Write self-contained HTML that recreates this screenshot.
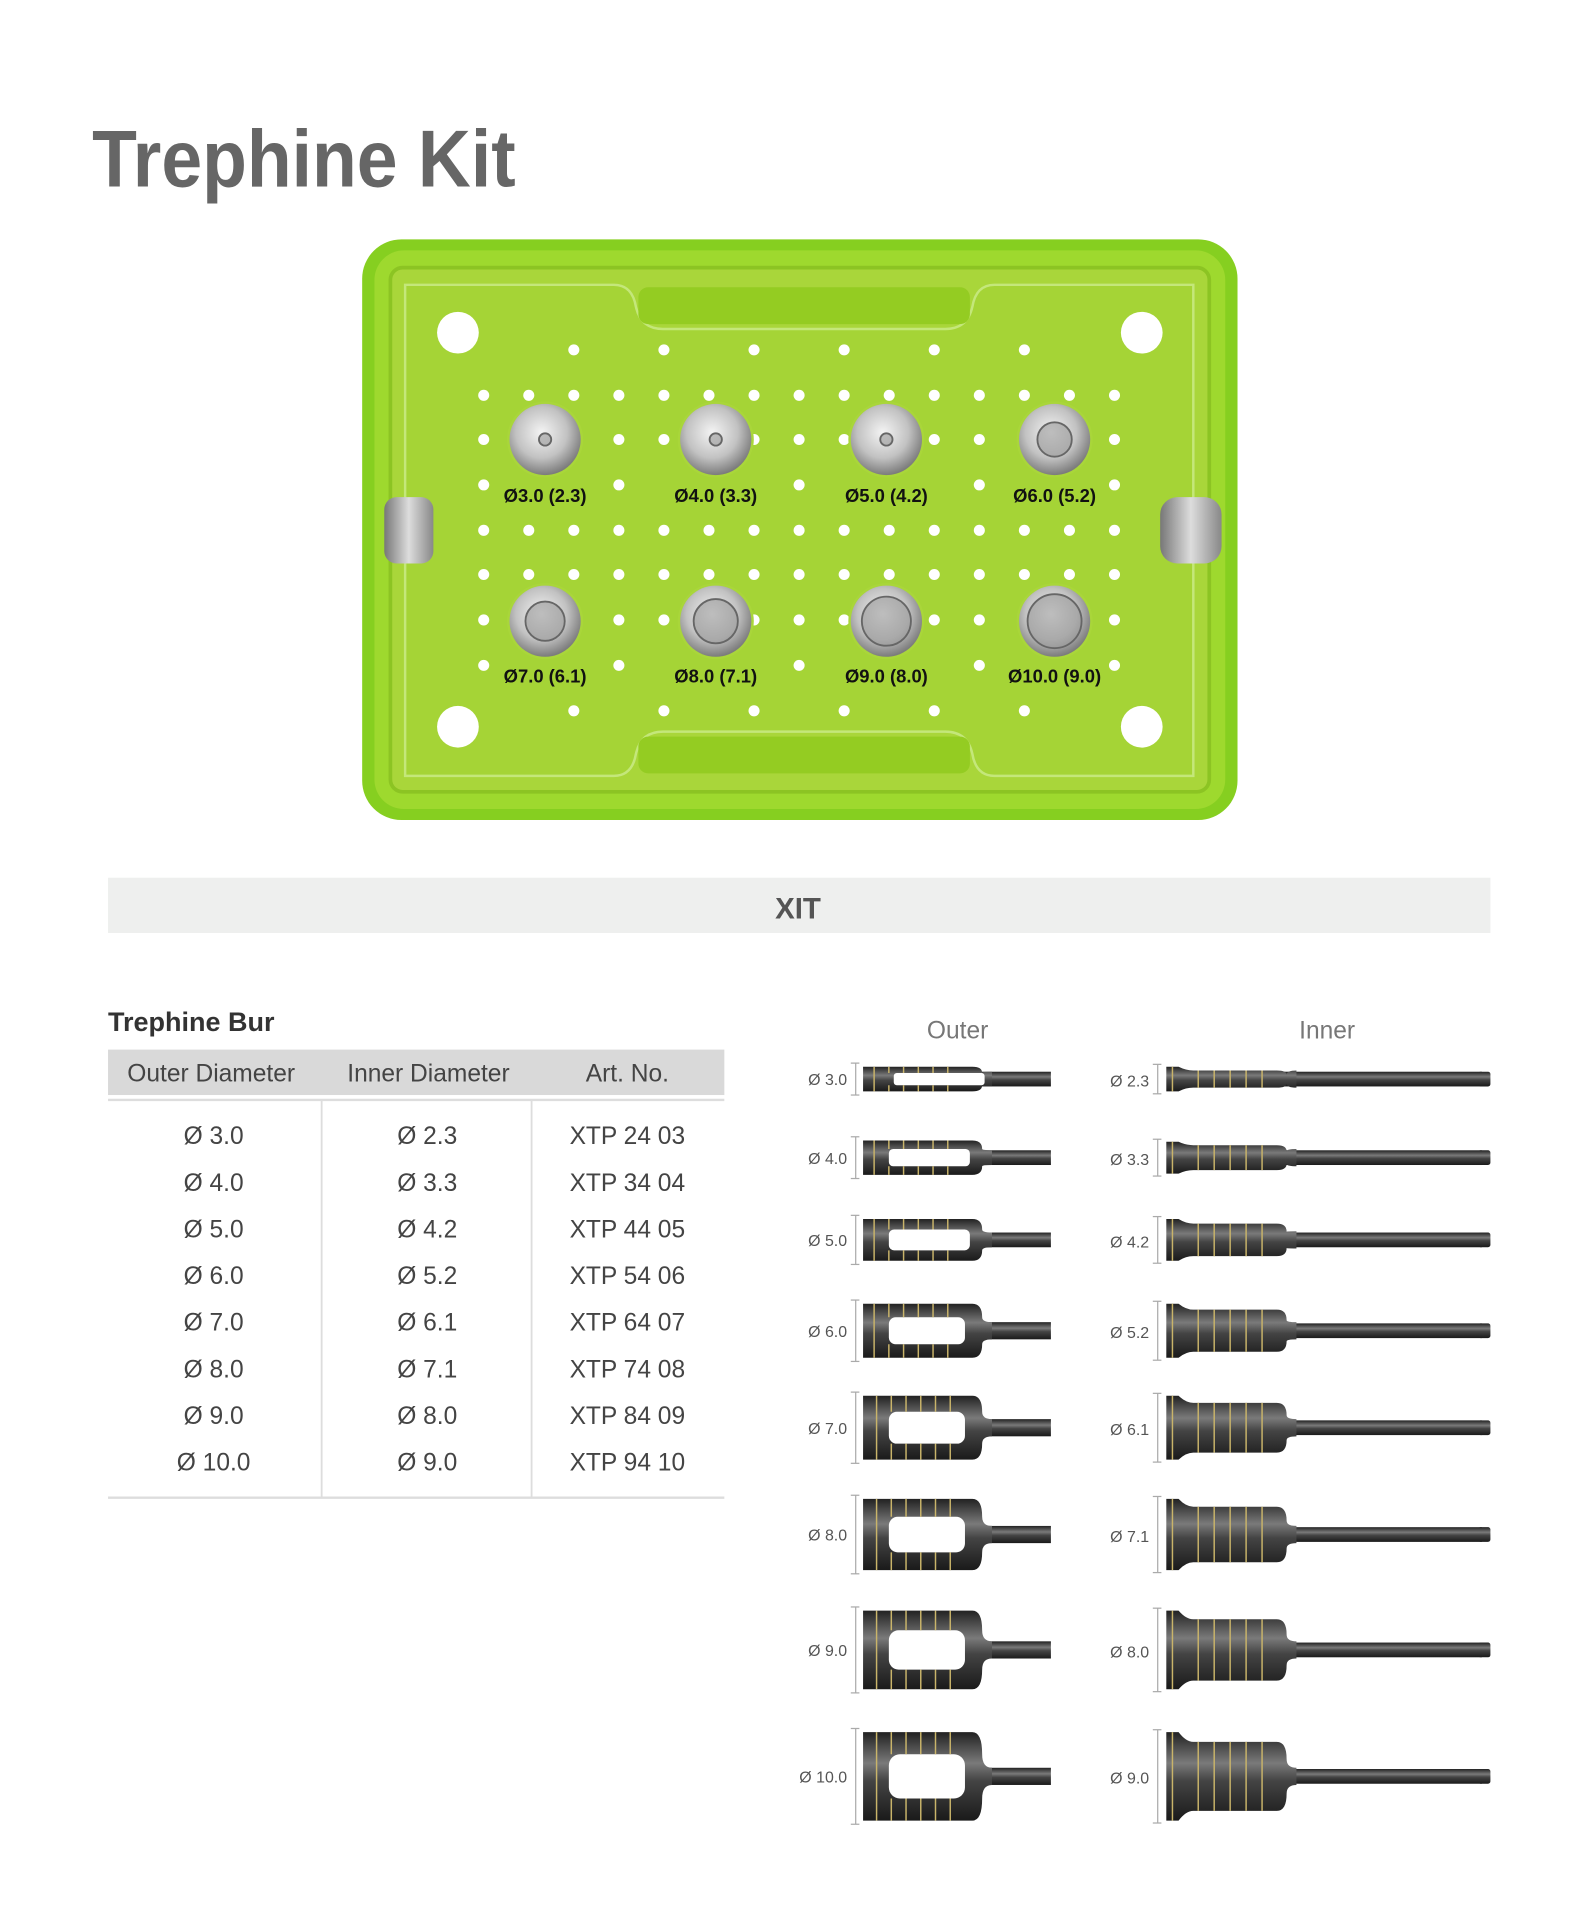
<!DOCTYPE html>
<html><head><meta charset="utf-8"><style>
html,body{margin:0;padding:0;background:#fff;}
svg{display:block;}
.t{font-family:"Liberation Sans Narrow","Liberation Sans",sans-serif;}
</style></head><body>
<svg id="s" width="1596" height="1920" viewBox="0 0 1300 1564" preserveAspectRatio="none" xmlns="http://www.w3.org/2000/svg">
<defs>
<radialGradient id="met" cx="45%" cy="40%" r="60%"><stop offset="0" stop-color="#f4f4f4"/><stop offset="0.6" stop-color="#c2c2c2"/><stop offset="1" stop-color="#7c7c7c"/></radialGradient>
<linearGradient id="dk" x1="0" y1="0" x2="0" y2="1"><stop offset="0" stop-color="#222"/><stop offset="0.35" stop-color="#7a7a7a"/><stop offset="0.55" stop-color="#444"/><stop offset="1" stop-color="#1a1a1a"/></linearGradient>
<linearGradient id="knob" x1="0" y1="0" x2="1" y2="0"><stop offset="0" stop-color="#777"/><stop offset="0.5" stop-color="#ddd"/><stop offset="1" stop-color="#888"/></linearGradient>
</defs>
<text x="75" y="152" textLength="345" lengthAdjust="spacingAndGlyphs" font-size="66" font-weight="bold" fill="#666" font-family="Liberation Sans, sans-serif">Trephine Kit</text>
<!-- tray -->
<rect x="295" y="195" width="713" height="473" rx="32" fill="#86cf20"/>
<rect x="305" y="204" width="693" height="455" rx="24" fill="#9ed92e"/>
<rect x="318" y="218" width="667" height="427" rx="10" fill="#a9d63a" stroke="#8cc423" stroke-width="3"/>
<path d="M330 232 H500 Q515 232 518 250 Q522 268 540 268 H770 Q788 268 792 250 Q795 232 810 232 H972 V632 H810 Q795 632 792 614 Q788 596 770 596 H540 Q522 596 518 614 Q515 632 500 632 H330 Z" fill="#a5d436" stroke="#c4e77a" stroke-width="2"/>
<rect x="520" y="234" width="270" height="30" rx="8" fill="#94cc22"/>
<rect x="520" y="600" width="270" height="30" rx="8" fill="#94cc22"/>
<rect x="313" y="405" width="40" height="54" rx="10" fill="url(#knob)"/>
<rect x="945" y="405" width="50" height="54" rx="14" fill="url(#knob)"/>
<g fill="#fff"><circle cx="373" cy="271" r="17"/><circle cx="930" cy="271" r="17"/><circle cx="373" cy="592" r="17"/><circle cx="930" cy="592" r="17"/></g>
<g id="dots" fill="#fff"></g>
<g id="sock"></g>
<g font-family="Liberation Sans Narrow, Liberation Sans, sans-serif" font-size="15" font-weight="bold" fill="#111" text-anchor="middle">
<text x="444" y="409">Ø3.0 (2.3)</text><text x="583" y="409">Ø4.0 (3.3)</text><text x="722" y="409">Ø5.0 (4.2)</text><text x="859" y="409">Ø6.0 (5.2)</text>
<text x="444" y="556">Ø7.0 (6.1)</text><text x="583" y="556">Ø8.0 (7.1)</text><text x="722" y="556">Ø9.0 (8.0)</text><text x="859" y="556">Ø10.0 (9.0)</text>
</g>
<!-- XIT bar -->
<rect x="88" y="715" width="1126" height="45" fill="#eeefee"/>
<text x="650" y="748" text-anchor="middle" font-family="Liberation Sans Narrow, Liberation Sans, sans-serif" font-size="24" font-weight="bold" fill="#555">XIT</text>
<!-- table -->
<text x="88" y="840" font-family="Liberation Sans, sans-serif" font-size="22" font-weight="bold" fill="#333">Trephine Bur</text>
<rect x="88" y="855" width="502" height="37" fill="#d9d9d9"/>
<line x1="88" y1="896" x2="590" y2="896" stroke="#ddd" stroke-width="2"/>
<line x1="262" y1="896" x2="262" y2="1220" stroke="#ddd" stroke-width="1.5"/>
<line x1="433" y1="896" x2="433" y2="1220" stroke="#ddd" stroke-width="1.5"/>
<line x1="88" y1="1220" x2="590" y2="1220" stroke="#ddd" stroke-width="2"/>
<g font-family="Liberation Sans, sans-serif" font-size="20" fill="#444" text-anchor="middle">
<text x="172" y="881">Outer Diameter</text><text x="349" y="881">Inner Diameter</text><text x="511" y="881">Art. No.</text>
<text x="174" y="932">Ø 3.0</text><text x="348" y="932">Ø 2.3</text><text x="511" y="932">XTP 24 03</text>
<text x="174" y="970">Ø 4.0</text><text x="348" y="970">Ø 3.3</text><text x="511" y="970">XTP 34 04</text>
<text x="174" y="1008">Ø 5.0</text><text x="348" y="1008">Ø 4.2</text><text x="511" y="1008">XTP 44 05</text>
<text x="174" y="1046">Ø 6.0</text><text x="348" y="1046">Ø 5.2</text><text x="511" y="1046">XTP 54 06</text>
<text x="174" y="1084">Ø 7.0</text><text x="348" y="1084">Ø 6.1</text><text x="511" y="1084">XTP 64 07</text>
<text x="174" y="1122">Ø 8.0</text><text x="348" y="1122">Ø 7.1</text><text x="511" y="1122">XTP 74 08</text>
<text x="174" y="1160">Ø 9.0</text><text x="348" y="1160">Ø 8.0</text><text x="511" y="1160">XTP 84 09</text>
<text x="174" y="1198">Ø 10.0</text><text x="348" y="1198">Ø 9.0</text><text x="511" y="1198">XTP 94 10</text>
<text x="780" y="846" fill="#777">Outer</text><text x="1081" y="846" fill="#777">Inner</text>
</g>
<g id="burs"></g>
<g font-family="Liberation Sans, sans-serif" font-size="13" fill="#555" text-anchor="end">
<text x="690" y="884">Ø 3.0</text><text x="690" y="948">Ø 4.0</text><text x="690" y="1015">Ø 5.0</text><text x="690" y="1089">Ø 6.0</text>
<text x="690" y="1168">Ø 7.0</text><text x="690" y="1255">Ø 8.0</text><text x="690" y="1349">Ø 9.0</text><text x="690" y="1452">Ø 10.0</text>
<text x="936" y="885">Ø 2.3</text><text x="936" y="949">Ø 3.3</text><text x="936" y="1016">Ø 4.2</text><text x="936" y="1090">Ø 5.2</text>
<text x="936" y="1169">Ø 6.1</text><text x="936" y="1256">Ø 7.1</text><text x="936" y="1350">Ø 8.0</text><text x="936" y="1453">Ø 9.0</text>
</g>
</svg>
<script>
var NS="http://www.w3.org/2000/svg";
function el(p,n,a){var e=document.createElementNS(NS,n);for(var k in a)e.setAttribute(k,a[k]);p.appendChild(e);return e;}
var dots=document.getElementById('dots');
var cols=[];for(var i=0;i<15;i++)cols.push(394+i*36.7);
function row(y,idx){idx.forEach(function(i){el(dots,'circle',{cx:cols[i],cy:y,r:4.5});});}
var all=[0,1,2,3,4,5,6,7,8,9,10,11,12,13,14],alt=[2,4,6,8,10,12],mid=[0,3,7,11,14];
row(285,alt);row(579,alt);
[322,358,432,468,505].forEach(function(y){row(y,all);});
row(395,mid);row(542,mid);
var sock=document.getElementById('sock');
[[444,358],[583,358],[722,358],[859,358],[444,506],[583,506],[722,506],[859,506]].forEach(function(p,k){
 el(sock,'circle',{cx:p[0],cy:p[1],r:31,fill:'#a9d63a'});
 el(sock,'circle',{cx:p[0],cy:p[1],r:29,fill:'url(#met)'});
 var ir=k<3?5:(k<4?14:8+k*2);
 el(sock,'circle',{cx:p[0],cy:p[1],r:ir,fill:'#999',stroke:'#666','stroke-width':1.5,'fill-opacity':0.6});
});
var b=document.getElementById('burs');
var ys=[879,943,1010,1084,1163,1250,1344,1447];
var oh=[20,28,34,44,52,58,64,72];
var ih=[20,26,34,44,52,58,64,72];
ys.forEach(function(y,i){
 var h=oh[i],sh=i<3?12:14;
 el(b,'line',{x1:697,y1:y-h/2-3,x2:697,y2:y+h/2+3,stroke:'#aaa','stroke-width':1});
 el(b,'line',{x1:693,y1:y-h/2-3,x2:700,y2:y-h/2-3,stroke:'#aaa','stroke-width':1});
 el(b,'line',{x1:693,y1:y+h/2+3,x2:700,y2:y+h/2+3,stroke:'#aaa','stroke-width':1});
 el(b,'rect',{x:790,y:y-sh/2,width:66,height:sh,fill:'url(#dk)'});
 el(b,'path',{d:'M703 '+(y-h/2)+' H792 Q800 '+(y-h/2)+' 800 '+(y-h/4)+' Q800 '+(y-sh/2)+' 808 '+(y-sh/2)+' V'+(y+sh/2)+' Q800 '+(y+sh/2)+' 800 '+(y+h/4)+' Q800 '+(y+h/2)+' 792 '+(y+h/2)+' H703 Z',fill:'url(#dk)'});
 var wh=Math.max(8,h*0.5);
 el(b,'rect',{x:i<1?728:724,y:y-wh/2,width:i<1?74:(i<3?66:62),height:wh,rx:wh/4,fill:'#fff'});
 for(var g=0;g<6;g++){var gx=712+g*12+(i>3?2:0);el(b,'line',{x1:gx,y1:y-h/2,x2:gx,y2:y+h/2,stroke:'#c9b46a','stroke-width':1.2,'stroke-dasharray':g==0?'none':((h-wh)/2)+' '+wh});}
 var H=ih[i],bh=i==0?14:H*0.78;
 el(b,'line',{x1:943,y1:y-H/2-2,x2:943,y2:y+H/2+2,stroke:'#aaa','stroke-width':1});
 el(b,'line',{x1:939,y1:y-H/2-2,x2:946,y2:y-H/2-2,stroke:'#aaa','stroke-width':1});
 el(b,'line',{x1:939,y1:y+H/2+2,x2:946,y2:y+H/2+2,stroke:'#aaa','stroke-width':1});
 el(b,'rect',{x:1045,y:y-6,width:162,height:12,fill:'url(#dk)'});
 el(b,'rect',{x:1204,y:y-6,width:10,height:12,rx:2,fill:'url(#dk)'});
 el(b,'path',{d:'M950 '+(y-H/2)+' H960 Q966 '+(y-bh/2)+' 972 '+(y-bh/2)+' H1040 Q1048 '+(y-bh/2)+' 1048 '+(y-bh/4)+' Q1048 '+(y-7)+' 1056 '+(y-7)+' V'+(y+7)+' Q1048 '+(y+7)+' 1048 '+(y+bh/4)+' Q1048 '+(y+bh/2)+' 1040 '+(y+bh/2)+' H972 Q966 '+(y+bh/2)+' 960 '+(y+H/2)+' H950 Z',fill:'url(#dk)'});
 for(var g=0;g<6;g++){var gx=955+g*13+(g>0?8:0);var hh=g==0?H:bh;el(b,'line',{x1:gx,y1:y-hh/2,x2:gx,y2:y+hh/2,stroke:'#c9b46a','stroke-width':1.2});}
});
</script>
</body></html>
